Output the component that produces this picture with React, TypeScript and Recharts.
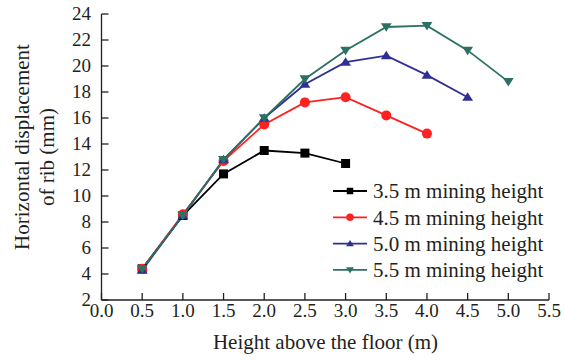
import React from 'react';
import { LineChart, Line, XAxis, YAxis, Legend } from 'recharts';

const xTicks = [0, 0.5, 1.0, 1.5, 2.0, 2.5, 3.0, 3.5, 4.0, 4.5, 5.0, 5.5];
const yTicks = [2, 4, 6, 8, 10, 12, 14, 16, 18, 20, 22, 24];

const names = ['3.5 m mining height', '4.5 m mining height', '5.0 m mining height', '5.5 m mining height'];

const heights35 = [0.5, 1.0, 1.5, 2.0, 2.5, 3.0];
const disp35 = [4.4, 8.5, 11.7, 13.5, 13.3, 12.5];

const heights45 = [0.5, 1.0, 1.5, 2.0, 2.5, 3.0, 3.5, 4.0];
const disp45 = [4.4, 8.6, 12.7, 15.5, 17.2, 17.6, 16.2, 14.8];

const heights50 = [0.5, 1.0, 1.5, 2.0, 2.5, 3.0, 3.5, 4.0, 4.5];
const disp50 = [4.3, 8.5, 12.8, 16.0, 18.6, 20.3, 20.8, 19.3, 17.6];

const heights55 = [0.5, 1.0, 1.5, 2.0, 2.5, 3.0, 3.5, 4.0, 4.5, 5.0];
const disp55 = [4.4, 8.5, 12.8, 16.0, 19.0, 21.2, 23.0, 23.1, 21.2, 18.8];

const colors = ['#000000', '#ff2020', '#2e3192', '#2d7064'];
const AX = '#231f20';
const FONT = '"Liberation Serif", "Times New Roman", serif';

const build = (xs: number[], ys: number[]) => xs.map((x, i) => ({ x, y: ys[i] }));
const series = [
  build(heights35, disp35),
  build(heights45, disp45),
  build(heights50, disp50),
  build(heights55, disp55),
];

type Shape = 'square' | 'circle' | 'up' | 'down';
const shapes: Shape[] = ['square', 'circle', 'up', 'down'];

const Marker = ({ shape, cx, cy, color, s }: { shape: Shape; cx: number; cy: number; color: string; s: number }) => {
  if (shape === 'square') return <rect x={cx - s / 2} y={cy - s / 2} width={s} height={s} fill={color} />;
  if (shape === 'circle') return <circle cx={cx} cy={cy} r={s / 2 + 0.5} fill={color} />;
  const h = s * 0.9;
  if (shape === 'up')
    return <path d={`M${cx},${cy - h * 0.6} L${cx + s * 0.6},${cy + h * 0.45} L${cx - s * 0.6},${cy + h * 0.45} Z`} fill={color} />;
  return <path d={`M${cx},${cy + h * 0.6} L${cx + s * 0.6},${cy - h * 0.45} L${cx - s * 0.6},${cy - h * 0.45} Z`} fill={color} />;
};

const makeDot = (idx: number) => (props: any) => {
  const { cx, cy, index } = props;
  return <Marker key={`d${idx}-${index}`} shape={shapes[idx]} cx={cx} cy={cy} color={colors[idx]} s={9} />;
};

const XTick = (props: any) => {
  const { x, y, payload } = props;
  return (
    <g>
      <line x1={x} x2={x} y1={y} y2={y - 7} stroke={AX} strokeWidth={1.3} />
      <text x={x} y={y + 17} textAnchor="middle" fontFamily={FONT} fontSize={19} fill={AX}>
        {Number(payload.value).toFixed(1)}
      </text>
    </g>
  );
};

const YTick = (props: any) => {
  const { x, y, payload } = props;
  return (
    <g>
      <line x1={x} x2={x + 7} y1={y} y2={y} stroke={AX} strokeWidth={1.3} />
      <text x={x - 10.5} y={y} dy="0.3em" textAnchor="end" fontFamily={FONT} fontSize={19} fill={AX}>
        {payload.value}
      </text>
    </g>
  );
};

const YTitle = () => (
  <g>
    <text x={28.5} y={147} transform="rotate(-90 28.5 147)" textAnchor="middle" fontFamily={FONT} fontSize={21} fill={AX}>
      Horizontal displacement
    </text>
    <text x={54} y={157} transform="rotate(-90 54 157)" textAnchor="middle" fontFamily={FONT} fontSize={21} fill={AX}>
      of rib (mm)
    </text>
  </g>
);

const XTitle = () => (
  <text x={325.5} y={349} textAnchor="middle" fontFamily={FONT} fontSize={21} fill={AX}>
    Height above the floor (m)
  </text>
);

const LegendContent = () => (
  <svg width={230} height={110} style={{ display: 'block' }}>
    {names.map((n, i) => {
      const cy = 15 + i * 26.3;
      return (
        <g key={n}>
          <line x1={3} x2={37} y1={cy} y2={cy} stroke={colors[i]} strokeWidth={1.8} />
          <Marker shape={shapes[i]} cx={20} cy={cy} color={colors[i]} s={6.5} />
          <text x={43} y={cy} dy="0.35em" fontFamily={FONT} fontSize={21} fill={AX}>
            {n}
          </text>
        </g>
      );
    })}
  </svg>
);

export default function App() {
  return (
    <div style={{ position: 'absolute', left: 0, top: 0, width: 565, height: 361, background: '#fff' }}>
      <LineChart width={565} height={361} margin={{ top: 14, right: 16, bottom: 31, left: 41.5 }}>
        <XAxis
          dataKey="x"
          type="number"
          domain={[0, 5.5]}
          ticks={xTicks}
          interval={0}
          allowDuplicatedCategory={false}
          height={30}
          tickSize={0}
          tickMargin={0}
          tick={<XTick />}
          stroke={AX}
          strokeWidth={1.3}
          label={<XTitle />}
        />
        <YAxis
          dataKey="y"
          type="number"
          domain={[2, 24]}
          ticks={yTicks}
          interval={0}
          width={60}
          tickSize={0}
          tickMargin={0}
          tick={<YTick />}
          stroke={AX}
          strokeWidth={1.3}
          label={<YTitle />}
        />
        <Legend
          layout="vertical"
          align="center"
          verticalAlign="middle"
          content={<LegendContent />}
          wrapperStyle={{ position: 'absolute', left: 330, top: 176, width: 230, height: 110 }}
        />
        {series.map((d, i) => (
          <Line
            key={names[i]}
            data={d}
            dataKey="y"
            name={names[i]}
            type="linear"
            stroke={colors[i]}
            strokeWidth={1.8}
            dot={makeDot(i)}
            activeDot={false}
            isAnimationActive={false}
          />
        ))}
      </LineChart>
    </div>
  );
}
